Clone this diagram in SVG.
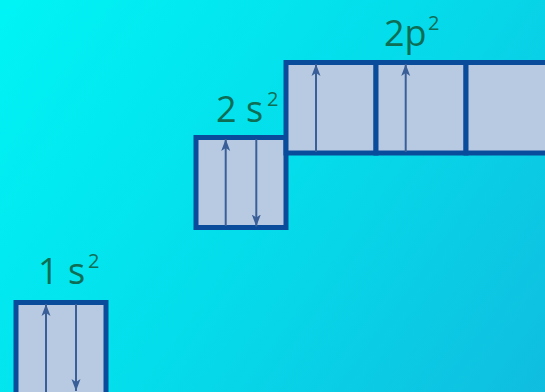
<svg xmlns="http://www.w3.org/2000/svg" width="545" height="392" viewBox="0 0 545 392">
  <defs>
    <linearGradient id="bg" x1="0" y1="0" x2="545" y2="392" gradientUnits="userSpaceOnUse">
      <stop offset="0" stop-color="#00F4F6"/>
      <stop offset="0.5" stop-color="#04DDEB"/>
      <stop offset="1" stop-color="#10BDDF"/>
    </linearGradient>
    <marker id="ah" markerUnits="userSpaceOnUse" markerWidth="12" markerHeight="10" refX="12" refY="4.5" orient="auto" viewBox="0 0 12 9">
      <path d="M0,0 L12,4.5 L0,9 L3,4.5 z" fill="#3A5F98"/>
    </marker>
    <style>
      .box { fill: #B8CAE2; stroke: #0A4C9C; stroke-width: 5; }
      .arr { stroke: #3A5F98; stroke-width: 2; fill: none; marker-end: url(#ah); }
      .lbl { font-family: "Open Sans", "Noto Sans", sans-serif; fill: #0E6E55; font-size: 36px; }
      .sup { font-size: 20px; }
    </style>
  </defs>
  <rect x="0" y="0" width="545" height="392" fill="url(#bg)"/>

  <g id="orbital-1s">
    <rect class="box" x="16" y="302.5" width="90" height="100"/>
    <text class="lbl" x="38" y="284">1 s<tspan class="sup" x="88" y="268">2</tspan></text>
  </g>

  <g id="orbital-2s">
    <rect class="box" x="196" y="137.5" width="90" height="90"/>
    <text class="lbl" x="216" y="121.7">2 s<tspan class="sup" x="267" y="105.5">2</tspan></text>
  </g>

  <g id="orbital-2p">
    <rect class="box" x="286" y="62.5" width="90" height="90.5"/>
    <rect class="box" x="376" y="62.5" width="90" height="90.5"/>
    <rect class="box" x="466" y="62.5" width="90" height="90.5"/>
    <text class="lbl" x="384" y="45.7">2p<tspan class="sup" x="428" y="30">2</tspan></text>
  </g>

  <g id="connectors">
    <line class="arr" x1="46" y1="392" x2="46" y2="304"/>
    <line class="arr" x1="76" y1="304" x2="76" y2="391"/>
    <line class="arr" x1="225.7" y1="226" x2="225.7" y2="139"/>
    <line class="arr" x1="256.3" y1="139" x2="256.3" y2="226.5"/>
    <line class="arr" x1="316" y1="152" x2="316" y2="64"/>
    <line class="arr" x1="405.7" y1="152" x2="405.7" y2="64"/>
  </g>
</svg>
